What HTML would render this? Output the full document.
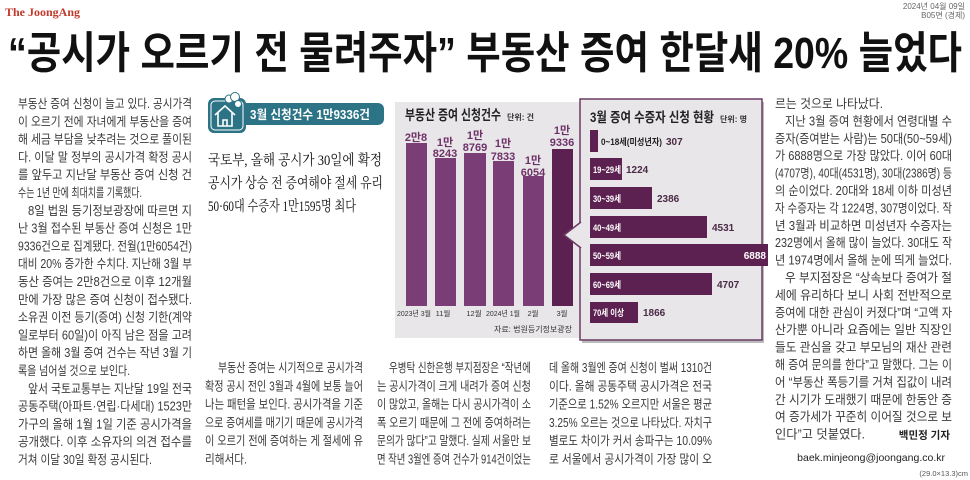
<!DOCTYPE html>
<html><head><meta charset="utf-8"><style>
html,body{margin:0;padding:0;background:#fff;width:970px;height:480px;overflow:hidden}
svg{display:block}
.b{font-family:"Liberation Sans","Noto Sans CJK KR",sans-serif;font-size:12.5px;fill:#3a3a3a}
.s{font-family:"Liberation Serif","Noto Serif CJK SC",serif;font-size:14.5px;fill:#111}
.cl{font-family:"Liberation Sans","Noto Sans CJK KR",sans-serif;font-weight:bold}
</style></head><body>
<svg width="970" height="480" viewBox="0 0 970 480" xmlns="http://www.w3.org/2000/svg">
<text x="5" y="16" font-family="Liberation Serif,serif" font-weight="bold" font-size="12" fill="#c0392b">The JoongAng</text>
<text x="965" y="9" text-anchor="end" font-family="Liberation Sans,Noto Sans CJK KR,sans-serif" font-size="8" fill="#666">2024년 04월 09일</text>
<text x="965" y="18" text-anchor="end" font-family="Liberation Sans,Noto Sans CJK KR,sans-serif" font-size="8" fill="#666">B05면 (경제)</text>
<text x="8" y="68" textLength="954" lengthAdjust="spacingAndGlyphs" font-family="Liberation Sans,Noto Sans CJK KR,sans-serif" font-weight="bold" font-size="44" fill="#111">“공시가 오르기 전 물려주자” 부동산 증여 한달새 20% 늘었다</text>

<!-- left column -->
<g class="b">
<text x="18" y="108" textLength="174" lengthAdjust="spacingAndGlyphs">부동산 증여 신청이 늘고 있다. 공시가격</text>
<text x="18" y="125.8" textLength="174" lengthAdjust="spacingAndGlyphs">이 오르기 전에 자녀에게 부동산을 증여</text>
<text x="18" y="143.6" textLength="174" lengthAdjust="spacingAndGlyphs">해 세금 부담을 낮추려는 것으로 풀이된</text>
<text x="18" y="161.4" textLength="174" lengthAdjust="spacingAndGlyphs">다. 이달 말 정부의 공시가격 확정 공시</text>
<text x="18" y="179.2" textLength="174" lengthAdjust="spacingAndGlyphs">를 앞두고 지난달 부동산 증여 신청 건</text>
<text x="18" y="197" textLength="124" lengthAdjust="spacingAndGlyphs">수는 1년 만에 최대치를 기록했다.</text>
<text x="28" y="214.8" textLength="164" lengthAdjust="spacingAndGlyphs">8일 법원 등기정보광장에 따르면 지</text>
<text x="18" y="232.6" textLength="174" lengthAdjust="spacingAndGlyphs">난 3월 접수된 부동산 증여 신청은 1만</text>
<text x="18" y="250.4" textLength="174" lengthAdjust="spacingAndGlyphs">9336건으로 집계됐다. 전월(1만6054건)</text>
<text x="18" y="268.2" textLength="174" lengthAdjust="spacingAndGlyphs">대비 20% 증가한 수치다. 지난해 3월 부</text>
<text x="18" y="286" textLength="174" lengthAdjust="spacingAndGlyphs">동산 증여는 2만8건으로 이후 12개월</text>
<text x="18" y="303.8" textLength="174" lengthAdjust="spacingAndGlyphs">만에 가장 많은 증여 신청이 접수됐다.</text>
<text x="18" y="321.6" textLength="174" lengthAdjust="spacingAndGlyphs">소유권 이전 등기(증여) 신청 기한(계약</text>
<text x="18" y="339.4" textLength="174" lengthAdjust="spacingAndGlyphs">일로부터 60일)이 아직 남은 점을 고려</text>
<text x="18" y="357.2" textLength="174" lengthAdjust="spacingAndGlyphs">하면 올해 3월 증여 건수는 작년 3월 기</text>
<text x="18" y="375" textLength="112" lengthAdjust="spacingAndGlyphs">록을 넘어설 것으로 보인다.</text>
<text x="28" y="392.8" textLength="164" lengthAdjust="spacingAndGlyphs">앞서 국토교통부는 지난달 19일 전국</text>
<text x="18" y="410.6" textLength="174" lengthAdjust="spacingAndGlyphs">공동주택(아파트·연립·다세대) 1523만</text>
<text x="18" y="428.4" textLength="174" lengthAdjust="spacingAndGlyphs">가구의 올해 1월 1일 기준 공시가격을</text>
<text x="18" y="446.2" textLength="174" lengthAdjust="spacingAndGlyphs">공개했다. 이후 소유자의 의견 접수를</text>
<text x="18" y="464" textLength="134" lengthAdjust="spacingAndGlyphs">거쳐 이달 30일 확정 공시된다.</text>
</g>

<!-- pill box -->
<rect x="236" y="103" width="148" height="22" rx="6" fill="#2b7385"/>
<text x="250" y="119" class="cl" font-size="12.5" fill="#fff" textLength="120" lengthAdjust="spacingAndGlyphs">3월 신청건수 1만9336건</text>
<rect x="208" y="98" width="38" height="35" rx="6" fill="#2b7385"/>
<rect x="211" y="101" width="32" height="29" rx="4" fill="none" stroke="#fff" stroke-width="1"/>
<path d="M215 115 L225 106 L235 115 M218 113 V126 H232 V113 M223 126 V120 H227 V126" fill="none" stroke="#fff" stroke-width="1.6"/>
<circle cx="229" cy="99" r="4" fill="#fff" stroke="#2b7385"/><circle cx="235" cy="97" r="4.5" fill="#fff" stroke="#2b7385"/><circle cx="238" cy="104" r="3.5" fill="#fff" stroke="#2b7385"/>
<g class="s">
<text x="208" y="165" textLength="174" lengthAdjust="spacingAndGlyphs">국토부, 올해 공시가 30일에 확정</text>
<text x="208" y="188" textLength="175" lengthAdjust="spacingAndGlyphs">공시가 상승 전 증여해야 절세 유리</text>
<text x="208" y="211" textLength="148" lengthAdjust="spacingAndGlyphs">50·60대 수증자 1만1595명 최다</text>
</g>

<!-- left chart panel -->
<rect x="395" y="102" width="185" height="236" fill="#e8e6e9"/>
<text x="405" y="120" class="cl" font-size="14" fill="#222" textLength="96" lengthAdjust="spacingAndGlyphs">부동산 증여 신청건수</text>
<text x="507" y="120" class="cl" font-size="8" font-weight="normal" fill="#333">단위: 건</text>
<g fill="#7b3d75">
<rect x="406" y="143" width="21" height="163"/>
<rect x="435" y="158" width="21" height="148"/>
<rect x="464" y="153" width="22" height="153"/>
<rect x="493" y="161" width="21" height="145"/>
<rect x="523" y="176" width="21" height="130"/>
</g>
<rect x="552" y="149" width="21" height="157" fill="#5c2150"/>
<g class="cl" font-size="11" fill="#6e3168" text-anchor="middle">
<text x="416" y="141">2만8</text>
<text x="445" y="146">1만</text><text x="445" y="157">8243</text>
<text x="475" y="139">1만</text><text x="475" y="151">8769</text>
<text x="503" y="147">1만</text><text x="503" y="160">7833</text>
<text x="533" y="164">1만</text><text x="533" y="176">6054</text>
<text x="562" y="134">1만</text><text x="562" y="146">9336</text>
</g>
<g font-family="Liberation Sans,Noto Sans CJK KR,sans-serif" font-size="7.5" fill="#333" text-anchor="middle">
<text x="414" y="316" textLength="34" lengthAdjust="spacingAndGlyphs">2023년 3월</text><text x="443" y="316">11월</text><text x="474" y="316">12월</text><text x="503" y="316" textLength="34" lengthAdjust="spacingAndGlyphs">2024년 1월</text><text x="533" y="316">2월</text><text x="562" y="316">3월</text>
<text x="572" y="332" text-anchor="end" font-size="8">자료: 법원등기정보광장</text>
</g>

<!-- right panel -->
<rect x="582" y="102" width="182" height="241" fill="#bbb"/>
<rect x="580" y="99" width="182" height="241" fill="#e8e6e9" stroke="#6b3a64" stroke-width="1.5"/>
<path d="M581 222 L564 235 L581 248" fill="#e8e6e9" stroke="#6b3a64" stroke-width="1.5"/>
<rect x="581.5" y="223" width="2" height="24" fill="#e8e6e9"/>
<text x="590" y="122" class="cl" font-size="13.5" fill="#222" textLength="124" lengthAdjust="spacingAndGlyphs">3월 증여 수증자 신청 현황</text>
<text x="720" y="122" class="cl" font-size="8" font-weight="normal" fill="#333">단위: 명</text>
<g fill="#5c2150">
<rect x="590" y="130" width="8" height="22"/>
<rect x="590" y="158" width="32" height="22"/>
<rect x="590" y="187" width="62" height="22"/>
<rect x="590" y="216" width="117" height="22"/>
<rect x="590" y="244" width="178" height="22"/>
<rect x="590" y="273" width="122" height="22"/>
<rect x="590" y="302" width="48" height="21"/>
</g>
<g class="cl" font-size="9" fill="#fff">
<text x="601" y="145" fill="#222" textLength="61" lengthAdjust="spacingAndGlyphs">0~18세(미성년자)</text>
<text x="593" y="173" textLength="28" lengthAdjust="spacingAndGlyphs">19~29세</text>
<text x="593" y="202" textLength="28" lengthAdjust="spacingAndGlyphs">30~39세</text>
<text x="593" y="231" textLength="28" lengthAdjust="spacingAndGlyphs">40~49세</text>
<text x="593" y="259" textLength="28" lengthAdjust="spacingAndGlyphs">50~59세</text>
<text x="593" y="288" textLength="28" lengthAdjust="spacingAndGlyphs">60~69세</text>
<text x="593" y="316" textLength="31" lengthAdjust="spacingAndGlyphs">70세 이상</text>
</g>
<g class="cl" font-size="10" fill="#4a2a45">
<text x="666" y="145">307</text>
<text x="626" y="173">1224</text>
<text x="657" y="202">2386</text>
<text x="712" y="231">4531</text>
<text x="766" y="259" text-anchor="end" fill="#fff">6888</text>
<text x="717" y="288">4707</text>
<text x="643" y="316">1866</text>
</g>

<!-- bottom columns -->
<g class="b">
<text x="218" y="372" textLength="145" lengthAdjust="spacingAndGlyphs">부동산 증여는 시기적으로 공시가격</text>
<text x="205" y="390.3" textLength="158" lengthAdjust="spacingAndGlyphs">확정 공시 전인 3월과 4월에 보통 늘어</text>
<text x="205" y="408.6" textLength="158" lengthAdjust="spacingAndGlyphs">나는 패턴을 보인다. 공시가격을 기준</text>
<text x="205" y="426.9" textLength="158" lengthAdjust="spacingAndGlyphs">으로 증여세를 매기기 때문에 공시가격</text>
<text x="205" y="445.2" textLength="158" lengthAdjust="spacingAndGlyphs">이 오르기 전에 증여하는 게 절세에 유</text>
<text x="205" y="463.5" textLength="42" lengthAdjust="spacingAndGlyphs">리해서다.</text>

<text x="389" y="372" textLength="142" lengthAdjust="spacingAndGlyphs">우병탁 신한은행 부지점장은 “작년에</text>
<text x="377" y="390.3" textLength="154" lengthAdjust="spacingAndGlyphs">는 공시가격이 크게 내려가 증여 신청</text>
<text x="377" y="408.6" textLength="154" lengthAdjust="spacingAndGlyphs">이 많았고, 올해는 다시 공시가격이 소</text>
<text x="377" y="426.9" textLength="154" lengthAdjust="spacingAndGlyphs">폭 오르기 때문에 그 전에 증여하려는</text>
<text x="377" y="445.2" textLength="154" lengthAdjust="spacingAndGlyphs">문의가 많다”고 말했다. 실제 서울만 보</text>
<text x="377" y="463.5" textLength="154" lengthAdjust="spacingAndGlyphs">면 작년 3월엔 증여 건수가 914건이었는</text>

<text x="549" y="372" textLength="163" lengthAdjust="spacingAndGlyphs">데 올해 3월엔 증여 신청이 벌써 1310건</text>
<text x="549" y="390.3" textLength="163" lengthAdjust="spacingAndGlyphs">이다. 올해 공동주택 공시가격은 전국</text>
<text x="549" y="408.6" textLength="163" lengthAdjust="spacingAndGlyphs">기준으로 1.52% 오르지만 서울은 평균</text>
<text x="549" y="426.9" textLength="163" lengthAdjust="spacingAndGlyphs">3.25% 오르는 것으로 나타났다. 자치구</text>
<text x="549" y="445.2" textLength="163" lengthAdjust="spacingAndGlyphs">별로도 차이가 커서 송파구는 10.09%</text>
<text x="549" y="463.5" textLength="163" lengthAdjust="spacingAndGlyphs">로 서울에서 공시가격이 가장 많이 오</text>
</g>

<!-- right column -->
<g class="b">
<text x="775" y="108" textLength="108" lengthAdjust="spacingAndGlyphs">르는 것으로 나타났다.</text>
<text x="785" y="125.4" textLength="167" lengthAdjust="spacingAndGlyphs">지난 3월 증여 현황에서 연령대별 수</text>
<text x="775" y="142.8" textLength="177" lengthAdjust="spacingAndGlyphs">증자(증여받는 사람)는 50대(50~59세)</text>
<text x="775" y="160.2" textLength="177" lengthAdjust="spacingAndGlyphs">가 6888명으로 가장 많았다. 이어 60대</text>
<text x="775" y="177.6" textLength="177" lengthAdjust="spacingAndGlyphs">(4707명), 40대(4531명), 30대(2386명) 등</text>
<text x="775" y="195" textLength="177" lengthAdjust="spacingAndGlyphs">의 순이었다. 20대와 18세 이하 미성년</text>
<text x="775" y="212.4" textLength="177" lengthAdjust="spacingAndGlyphs">자 수증자는 각 1224명, 307명이었다. 작</text>
<text x="775" y="229.8" textLength="177" lengthAdjust="spacingAndGlyphs">년 3월과 비교하면 미성년자 수증자는</text>
<text x="775" y="247.2" textLength="177" lengthAdjust="spacingAndGlyphs">232명에서 올해 많이 늘었다. 30대도 작</text>
<text x="775" y="264.6" textLength="177" lengthAdjust="spacingAndGlyphs">년 1974명에서 올해 눈에 띄게 늘었다.</text>
<text x="785" y="282" textLength="167" lengthAdjust="spacingAndGlyphs">우 부지점장은 “상속보다 증여가 절</text>
<text x="775" y="299.4" textLength="177" lengthAdjust="spacingAndGlyphs">세에 유리하다 보니 사회 전반적으로</text>
<text x="775" y="316.8" textLength="177" lengthAdjust="spacingAndGlyphs">증여에 대한 관심이 커졌다”며 “고액 자</text>
<text x="775" y="334.2" textLength="177" lengthAdjust="spacingAndGlyphs">산가뿐 아니라 요즘에는 일반 직장인</text>
<text x="775" y="351.6" textLength="177" lengthAdjust="spacingAndGlyphs">들도 관심을 갖고 부모님의 재산 관련</text>
<text x="775" y="369" textLength="177" lengthAdjust="spacingAndGlyphs">해 증여 문의를 한다”고 말했다. 그는 이</text>
<text x="775" y="386.4" textLength="177" lengthAdjust="spacingAndGlyphs">어 “부동산 폭등기를 거쳐 집값이 내려</text>
<text x="775" y="403.8" textLength="177" lengthAdjust="spacingAndGlyphs">간 시기가 도래했기 때문에 한동안 증</text>
<text x="775" y="421.2" textLength="177" lengthAdjust="spacingAndGlyphs">여 증가세가 꾸준히 이어질 것으로 보</text>
<text x="775" y="438.6" textLength="90" lengthAdjust="spacingAndGlyphs">인다”고 덧붙였다.</text>
</g>
<text x="950" y="438.6" text-anchor="end" class="cl" font-size="10.5" fill="#222">백민정 기자</text>
<text x="945" y="461" text-anchor="end" font-family="Liberation Sans,sans-serif" font-size="10.5" fill="#222">baek.minjeong@joongang.co.kr</text>
<text x="968" y="476" text-anchor="end" font-family="Liberation Sans,sans-serif" font-size="7.5" fill="#555">(29.0×13.3)cm</text>
</svg>
</body></html>
